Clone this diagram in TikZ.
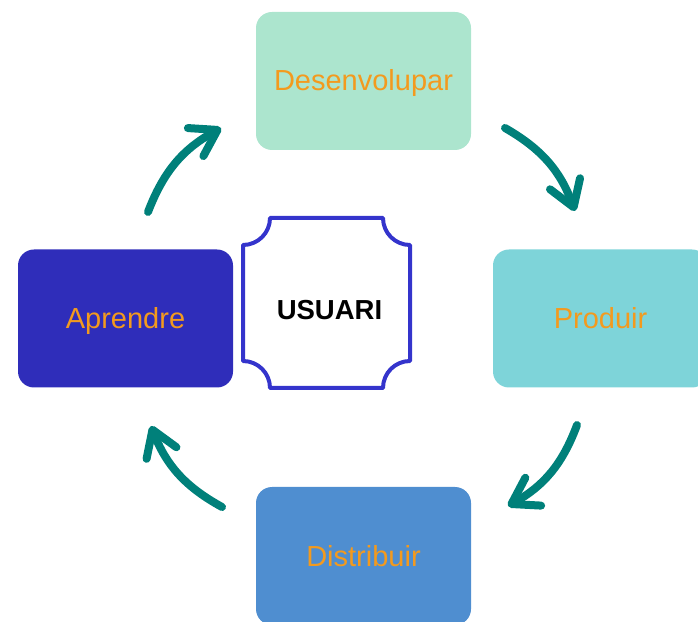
\documentclass[tikz,border=0pt]{standalone}
\usepackage{fontspec}
\setmainfont{Liberation Sans}
\usetikzlibrary{arrows.meta}
\definecolor{cdes}{HTML}{ACE5CE}
\definecolor{cpro}{HTML}{7ED4D9}
\definecolor{cdis}{HTML}{4F8ED0}
\definecolor{capr}{HTML}{2F2DBA}
\definecolor{corange}{HTML}{F39A1E}
\definecolor{cteal}{HTML}{00807A}
\definecolor{cusr}{HTML}{3434CC}
\begin{document}
\begin{tikzpicture}[x=1pt,y=1pt,
  box/.style={rounded corners=16pt, minimum width=215pt, minimum height=138pt, inner sep=0pt,
    text height=24pt, text depth=4pt,
    font=\fontsize{29}{32}\selectfont, text=corange},
  cyc/.style={draw=cteal, line width=8pt, line cap=round, bend left=20,
    -{Straight Barb[length=25pt,width=32pt,line cap=round,line join=round]}},
  usrline/.style={draw=cusr, line width=4pt, line join=round}]
\useasboundingbox (0,0) rectangle (698,621);
\clip (0,0) rectangle (698,621);
\node[box, fill=cdes] (des) at (363.5,540) {Desenvolupar};
\node[box, fill=cpro] (pro) at (600.5,302.5) {Produir};
\node[box, fill=cdis] (dis) at (363.5,65) {Distribuir};
\node[box, fill=capr] (apr) at (125.5,302.5) {Aprendre};
\draw[usrline] (270,403) -- (383,403) arc[start angle=180,end angle=270,radius=27]
  -- (410,260) arc[start angle=90,end angle=180,radius=27]
  -- (270,233) arc[start angle=0,end angle=90,radius=27]
  -- (243,376) arc[start angle=270,end angle=360,radius=27] -- cycle;
\node[font=\fontsize{27.5}{30}\selectfont\bfseries] (usr) at (329.5,311) {USUARI};
\coordinate (a1s) at (505,493); \coordinate (a1e) at (575,410);
\coordinate (a2s) at (577,196); \coordinate (a2e) at (508,115);
\coordinate (a3s) at (222,114); \coordinate (a3e) at (151,195);
\coordinate (a4s) at (148,409); \coordinate (a4e) at (221,493);
\draw[cyc] (a1s) to (a1e);
\draw[cyc] (a2s) to (a2e);
\draw[cyc] (a3s) to (a3e);
\draw[cyc] (a4s) to (a4e);
\end{tikzpicture}
\end{document}
